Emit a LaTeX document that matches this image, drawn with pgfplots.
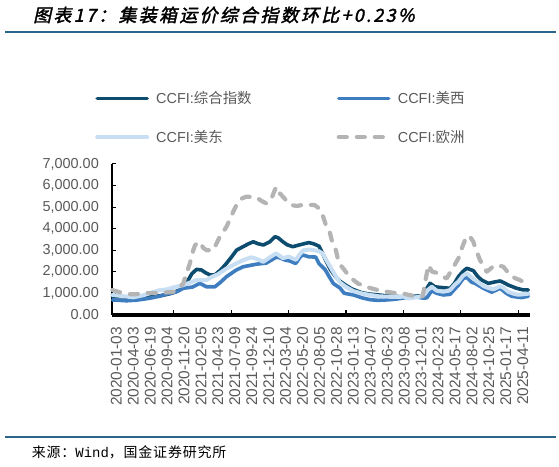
\documentclass[border=0pt]{standalone}
\usepackage{fontspec}
\setmainfont{Liberation Sans}
\newfontfamily\cjk{Noto Sans CJK SC}
\newfontfamily\titlefont[FakeSlant=0.22,FakeBold=2,LetterSpace=13]{Noto Sans CJK SC}
\newfontfamily\srcfont[LetterSpace=6]{Noto Sans CJK SC}
\newfontfamily\monof{Liberation Mono}
\usepackage{pgfplots}
\pgfplotsset{compat=1.18}
\definecolor{cComp}{RGB}{13,76,110}
\definecolor{cWest}{RGB}{62,125,192}
\definecolor{cEast}{RGB}{200,222,242}
\definecolor{cEuro}{RGB}{180,180,180}
\definecolor{cRule}{RGB}{44,101,138}
\definecolor{tickgray}{RGB}{89,89,89}
\begin{document}
\begin{tikzpicture}[x=1bp,y=1bp]
\path (0,0) rectangle (559,467);
\node[anchor=west, inner sep=0pt] at (33,452) {\fontsize{18}{18}\titlefont 图表17：集装箱运价综合指数环比+0.23\%};
\draw[cRule, line width=2bp] (5,434.7) -- (556,434.7);
\draw[cRule, line width=2bp] (5,29.7) -- (556,29.7);
\node[anchor=west, inner sep=0pt] at (31.7,14.3) {\fontsize{14}{14}\selectfont\srcfont 来源：{\monof Wind}，国金证券研究所};
\begin{axis}[
  at={(112bp,152.2bp)}, anchor=south west,
  scale only axis, width=418bp, height=150.8bp,
  xmin=-2.8, xmax=268.7, ymin=0, ymax=7000,
  axis x line=bottom, axis y line=left,
  x axis line style={-, line width=3.6bp, black},
  y axis line style={-, line width=1.2bp, black},
  tick align=inside,
  major tick length=4bp,
  xtick={0,11,...,264},
  xticklabels={2020-01-03,2020-04-03,2020-06-19,2020-09-04,2020-11-20,2021-02-05,2021-04-23,2021-07-09,2021-09-24,2021-12-10,2022-03-04,2022-05-20,2022-08-05,2022-10-28,2023-01-13,2023-04-07,2023-06-23,2023-09-08,2023-12-01,2024-02-23,2024-05-17,2024-08-02,2024-10-25,2025-01-17,2025-04-11},
  xtick style={draw=none},
  extra x ticks={37.3,74.6,111.9,149.2,186.5,223.8,261.1},
  extra x tick labels={},
  extra x tick style={xtick style={draw=black, line width=1.2bp}, major tick length=5bp},
  xticklabel style={yshift=-12bp, rotate=90, anchor=east, inner sep=0pt, font=\fontsize{15.5}{15.5}\selectfont, text=tickgray},
  ytick={0,1000,...,7000},
  ytick style={black, line width=1bp},
  scaled y ticks=false,
  yticklabel style={inner sep=0pt, xshift=-13bp, font=\fontsize{14.5}{14.5}\selectfont, text=tickgray,
    /pgf/number format/.cd, fixed, fixed zerofill, precision=2, 1000 sep={,}, assume math mode=true},
  legend columns=2,
  legend style={at={(-0.0407,1.495)}, anchor=north west, draw=none, fill=none, inner sep=0pt,
    font=\fontsize{14.5}{14.5}\selectfont, text=tickgray, row sep=21bp,
    /tikz/every odd column/.append style={column sep=5bp},
    /tikz/every even column/.append style={column sep=83bp}},
  legend cell align=left,
  legend image code/.code={\draw[#1] (0bp,0bp) -- (50bp,0bp);},
  clip=false,
]
\addplot[cComp, line width=3.6bp, line cap=round, line join=round] coordinates {
(-2.5,840)(5,830)(12,800)(18,820)(24,850)(30,900)(36,1000)(41,1150)(44,1300)(46.7,1610)(49,1900)(52.1,2110)(55.3,2080)(58,1950)(60.8,1850)(64,1850)(68,2100)(71.6,2390)(75,2700)(78.1,3000)(82,3150)(86,3300)(89,3390)(92,3300)(95.5,3240)(99.7,3390)(103,3620)(105,3580)(108.2,3390)(111,3250)(114.6,3160)(118.7,3240)(122,3300)(125.1,3350)(128,3300)(131.6,3190)(134,2850)(135.9,2540)(139,2100)(142.4,1770)(145.5,1550)(148.9,1380)(153,1200)(159.6,1020)(165,960)(170.4,920)(178,860)(185.5,840)(192,860)(198.4,880)(201,1150)(203.8,1460)(207,1300)(210.3,1270)(216.8,1230)(219.5,1450)(222.2,1770)(225,2000)(227.6,2160)(231.9,2050)(234.5,1800)(237.3,1610)(241.7,1460)(245.5,1520)(249.3,1570)(252,1480)(254.6,1380)(260,1230)(264,1160)(267.6,1150)
};
\addlegendentry{CCFI:{\cjk 综合指数}}
\addplot[cWest, line width=3.6bp, line cap=round, line join=round] coordinates {
(-2.5,690)(6.6,650)(13,680)(17.3,720)(21.8,770)(28,860)(32.6,965)(38.9,1060)(43.5,1230)(49.6,1290)(54.2,1460)(58.6,1300)(64,1300)(67.5,1500)(71.6,1770)(77.7,2070)(82.4,2230)(86,2280)(91,2350)(97.4,2400)(101,2550)(103.8,2670)(106,2650)(110,2530)(112.7,2500)(116.5,2380)(119.8,2720)(121.5,2770)(125.1,2690)(129.5,2680)(131.6,2380)(135.6,2100)(138,1800)(141,1450)(145.3,1240)(148,1000)(154,920)(160,780)(164.9,700)(170,670)(175.7,690)(181,720)(186.5,780)(191.9,850)(197.3,800)(199.5,770)(201.7,790)(204.9,1120)(208,1000)(212.5,920)(216.8,950)(219.9,1200)(222.2,1380)(225.3,1680)(227.6,1740)(230.6,1520)(233,1460)(238.4,1230)(243.8,1050)(247,1150)(249.3,1230)(253.3,1000)(256.8,860)(260.8,820)(263.2,800)(267.6,860)
};
\addlegendentry{CCFI:{\cjk 美西}}
\addplot[cEast, line width=4bp, line cap=round, line join=round] coordinates {
(-2.5,920)(5,860)(10.9,810)(17.3,900)(24,1050)(28,1140)(32.6,1180)(38,1290)(43.5,1380)(48,1500)(52.1,1610)(58.6,1610)(62,1760)(66,1880)(71.6,2150)(77,2350)(82.4,2540)(87.7,2670)(91,2600)(95.5,2460)(99.7,2670)(103.8,2850)(108.2,2630)(112,2700)(116.8,2550)(119,2800)(121.5,3000)(126,3030)(131.6,2950)(134,2850)(136.5,2530)(140,2100)(142.5,1800)(145.3,1500)(149,1300)(154,1100)(160,980)(164.9,920)(170.4,860)(175.7,840)(181,830)(186.5,840)(189.7,760)(194,800)(197.3,850)(199.5,900)(201.5,1100)(204.9,1300)(208.1,1120)(212.5,1070)(216.8,1150)(219.9,1400)(222.2,1540)(225,1800)(227.6,1930)(230.6,1750)(233,1610)(238.4,1340)(241.4,1250)(244.9,1180)(249.3,1330)(251.5,1250)(254.6,1070)(258,980)(261.1,930)(264,950)(267.6,980)
};
\addlegendentry{CCFI:{\cjk 美东}}
\addplot[cEuro, line width=4.2bp, line cap=round, line join=round, dash pattern=on 8bp off 10bp] coordinates {
(-2.5,1150)(2,1050)(6.7,965)(12,950)(19.6,1020)(28,1000)(33,1040)(37,1070)(40.5,1200)(43.5,1460)(45.5,1900)(47.8,2390)(50,3000)(51.2,3240)(54.2,3390)(56.5,3100)(58.6,3000)(62.9,3000)(65,3300)(67.2,3620)(71.6,4090)(75.9,4780)(79.1,5250)(82,5420)(84.5,5480)(88,5470)(91,5450)(94,5300)(97.4,5170)(100.5,5350)(103,5800)(104,5940)(106,5650)(108.2,5480)(110.5,5300)(113.6,5100)(117,5050)(121.1,5100)(125,5100)(128.6,5100)(131.5,4950)(134,4630)(136,4200)(138.3,3930)(140.5,3300)(142.6,3000)(144.5,2400)(148,2100)(151,1800)(153.4,1650)(157,1450)(162,1300)(167,1200)(172.8,1100)(180,1020)(185.7,1000)(190,920)(196.5,840)(199,860)(200.8,1600)(202.7,2310)(205.1,2000)(208,1950)(211,1800)(214.6,1690)(218,2100)(222.2,2620)(225,3200)(227.6,3660)(230,3600)(231.9,3390)(234,2950)(236.2,2540)(240.6,2000)(244,2200)(247.1,2310)(251.4,2230)(255.7,1850)(259,1700)(262.2,1610)(265,1500)(267.6,1460)
};
\addlegendentry{CCFI:{\cjk 欧洲}}
\end{axis}
\end{tikzpicture}
\end{document}
